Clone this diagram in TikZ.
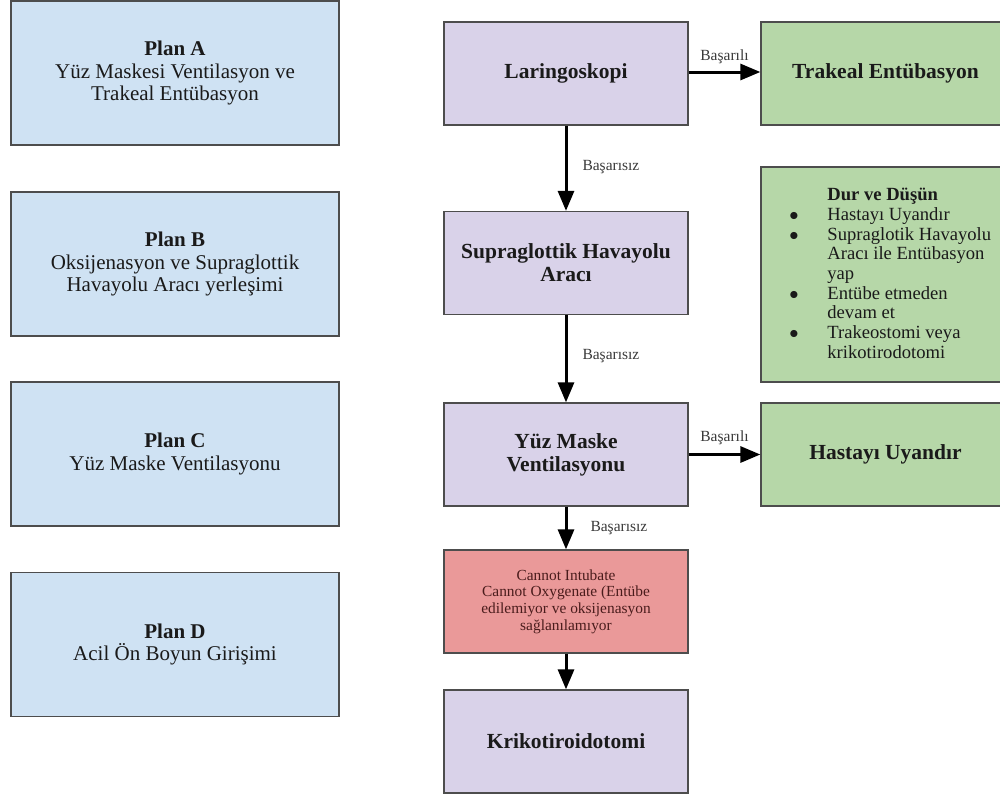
\documentclass[tikz,border=0pt]{standalone}
\usepackage{fontspec}
\setmainfont{Liberation Serif}
\usetikzlibrary{positioning,arrows.meta}

\definecolor{planblue}{HTML}{CFE2F3}
\definecolor{steplilac}{HTML}{D9D2E9}
\definecolor{okgreen}{HTML}{B6D7A8}
\definecolor{failred}{HTML}{EA9999}
\definecolor{edgegray}{HTML}{4D4D4D}
\definecolor{inkdark}{HTML}{1A1A1A}
\definecolor{labelgray}{HTML}{3A3A3A}
\definecolor{redink}{HTML}{4A1C1C}

\tikzstyle{plan} = [rectangle, draw=edgegray, line width=0.65pt, fill=planblue,
    inner sep=0pt, minimum width=164pt, minimum height=72pt, align=center,
    text=inkdark, font=\fontsize{10.5}{11.25}\selectfont]
\tikzstyle{stepbox} = [rectangle, draw=edgegray, line width=0.65pt, fill=steplilac,
    inner sep=0pt, minimum width=122pt, minimum height=51.5pt, align=center,
    text=inkdark, font=\bfseries\fontsize{10.75}{11.5}\selectfont]
\tikzstyle{okbox} = [rectangle, draw=edgegray, line width=0.65pt, fill=okgreen,
    inner sep=0pt, minimum width=124.5pt, minimum height=51.5pt, align=center,
    text=inkdark, font=\bfseries\fontsize{10.75}{11.5}\selectfont]
\tikzstyle{failbox} = [stepbox, fill=failred, text=redink,
    font=\fontsize{7.7}{8.35}\selectfont]
\tikzstyle{lbl} = [inner sep=0pt, text=labelgray, font=\fontsize{7.75}{8}\selectfont]
\tikzstyle{arrow} = [line width=1.5pt, -{Triangle[width=8pt,length=10pt]}]

\newcommand{\blt}{$\bullet$}

\begin{document}
\begin{tikzpicture}[x=0.5pt, y=-0.5pt]
	\useasboundingbox (0,0) rectangle (1000,798);
	% plans
	\node [plan] (pla) at (175,73) {\textbf{Plan A}\\Yüz Maskesi Ventilasyon ve\\Trakeal Entübasyon};
	\node [plan] (plb) at (175,264) {\textbf{Plan B}\\Oksijenasyon ve Supraglottik\\Havayolu Aracı yerleşimi};
	\node [plan] (plc) at (175,454) {\textbf{Plan C}\\Yüz Maske Ventilasyonu};
	\node [plan] (pld) at (175,644.5) {\textbf{Plan D}\\Acil Ön Boyun Girişimi};
	%
	\node [stepbox] (lar) at (566,73.5) {Laringoskopi};
	\node [stepbox] (sga) at (566,263) {Supraglottik Havayolu\\Aracı};
	\node [stepbox] (yuz) at (566,454.5) {Yüz Maske\\Ventilasyonu};
	\node [failbox] (cico) at (566,601.5) {Cannot Intubate\\Cannot Oxygenate (Entübe\\edilemiyor ve oksijenasyon\\sağlanılamıyor};
	\node [stepbox] (krik) at (566,741.5) {Krikotiroidotomi};
	%
	\node [okbox] (tra) at (885.5,73.5) {Trakeal Entübasyon};
	\node [okbox, minimum height=107.5pt] (dur) at (885.5,274.5) {};
	\node [okbox] (hast) at (885.5,454.5) {Hastayı Uyandır};
	\node [anchor=west, inner sep=0pt, text=inkdark, font=\fontsize{9.3}{9.85}\selectfont]
		(durtext) at (789,275.5) {\begin{tabular}{@{}p{19pt}@{}l@{}}
		& \textbf{Dur ve Düşün}\\
		\blt & Hastayı Uyandır\\
		\blt & Supraglotik Havayolu\\
		& Aracı ile Entübasyon\\
		& yap\\
		\blt & Entübe etmeden\\
		& devam et\\
		\blt & Trakeostomi veya\\
		& krikotirodotomi
		\end{tabular}};
	% arrows
	\draw [arrow] (lar) -- node [lbl, right=7.5pt, yshift=0.5pt] {Başarısız} (sga);
	\draw [arrow] (sga) -- node [lbl, right=7.5pt, yshift=1.5pt] {Başarısız} (yuz);
	\draw [arrow] (yuz) -- node [lbl, right=11.5pt] {Başarısız} (cico);
	\draw [arrow] (cico) -- (krik);
	\draw [arrow] (lar.east |- 0,72) -- node [lbl, above=3.5pt] {Başarılı} (tra.west |- 0,72);
	\draw [arrow] (yuz) -- node [lbl, above=4pt] {Başarılı} (hast);
\end{tikzpicture}
\end{document}
